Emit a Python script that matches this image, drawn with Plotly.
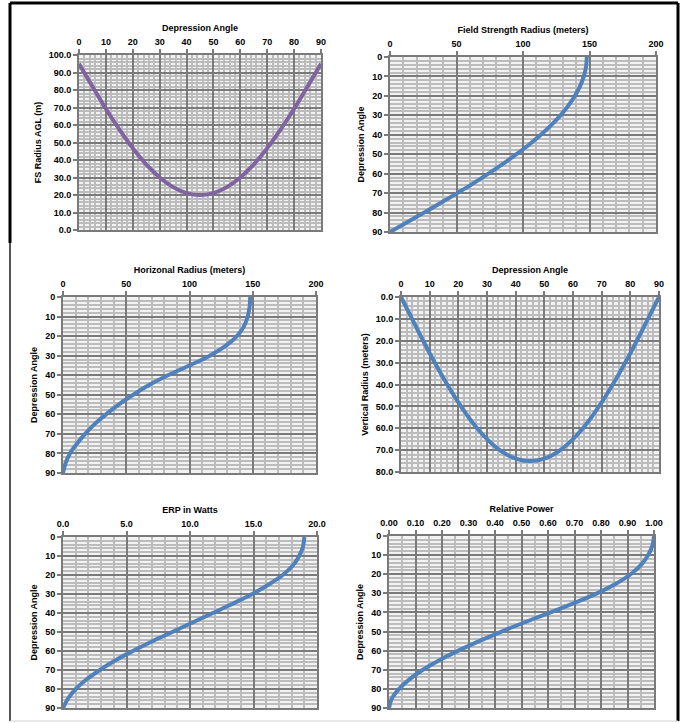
import plotly.graph_objects as go

W, H = 682, 723

# ---- data ----
angles = [0, 5, 10, 15, 20, 25, 30, 35, 40, 45, 50, 55, 60, 65, 70, 75, 80, 85, 90]
fs_radius_agl = [95, 82, 69.3, 57.5, 46.8, 37.5, 30, 24.5, 21.1, 20, 21.1, 24.5, 30, 37.5, 46.8, 57.5, 69.3, 82, 95]
field_strength_radius = [148, 147.4, 145.7, 142.9, 139, 134.1, 128.2, 121.2, 113.4, 104.7, 95.1, 84.9, 74, 62.6, 50.6, 38.3, 25.7, 12.9, 0]
horizontal_radius = [148, 147.5, 146, 143, 137.5, 128.5, 116, 100, 83, 68, 55.5, 44, 34, 25, 17.5, 11, 5.5, 2, 0]
vertical_radius = [0, 13, 25.7, 37.5, 48.2, 57.5, 65, 70.5, 73.9, 75, 73.9, 70.5, 65, 57.5, 48.2, 37.5, 25.7, 13, 0]
erp_watts = [19.0, 18.9, 18.6, 18.1, 17.3, 16.2, 14.9, 13.4, 11.8, 10.2, 8.6, 7.0, 5.5, 4.1, 2.9, 1.85, 1.0, 0.4, 0]
relative_power = [1.0, 0.994, 0.978, 0.952, 0.912, 0.856, 0.785, 0.70, 0.61, 0.515, 0.425, 0.34, 0.262, 0.19, 0.128, 0.077, 0.038, 0.011, 0]

x_titles = ["Depression Angle", "Field Strength Radius (meters)", "Horizonal Radius (meters)",
            "Depression Angle", "ERP in Watts", "Relative Power"]
y_titles = ["FS Radius AGL (m)", "Depression Angle", "Depression Angle",
            "Vertical Radius (meters)", "Depression Angle", "Depression Angle"]

PURPLE = "#8064a2"
BLUE = "#4f81bd"

# plot boxes in pixels: (x0, x1, ytop, ybottom)
boxes = [(79, 321, 55, 230), (390, 656, 57, 232), (63, 316, 297, 473),
         (401, 659, 297, 472), (63, 317, 537, 708), (389, 654, 536, 708)]

series = [
    (angles, fs_radius_agl, PURPLE),
    (field_strength_radius, angles, BLUE),
    (horizontal_radius, angles, BLUE),
    (angles, vertical_radius, BLUE),
    (erp_watts, angles, BLUE),
    (relative_power, angles, BLUE),
]

# axis specs: (range, dtick, minor dtick, tickformat)
xspec = [([0, 90], 10, 2, "d"), ([0, 200], 50, 10, "d"), ([0, 200], 50, 10, "d"),
         ([0, 90], 10, 2, "d"), ([0, 20], 5, 1, ".1f"), ([0, 1], 0.1, 0.05, ".2f")]
yspec = [([0, 100], 10, 2, ".1f"), ([90, 0], 10, 2, "d"), ([90, 0], 10, 2, "d"),
         ([80, 0], 10, 2, ".1f"), ([90, 0], 10, 2, "d"), ([90, 0], 10, 2, "d")]

FONT = dict(family="Liberation Sans", size=9, color="#000000", weight="bold")
MAJOR = "#7a7a7a"
MINOR = "#bcbcbc"

fig = go.Figure()
layout = {}
for i, ((x0, x1, yt, yb), (xs, ys, col)) in enumerate(zip(boxes, series)):
    n = i + 1
    sx = "" if n == 1 else str(n)
    fig.add_trace(go.Scatter(x=xs, y=ys, mode="lines", line=dict(color=col, width=4, shape="spline", smoothing=1),
                             xaxis="x" + sx, yaxis="y" + sx, showlegend=False, hoverinfo="skip"))
    xr, xd, xm, xf = xspec[i]
    yr, yd, ym, yf = yspec[i]
    layout["xaxis" + sx] = dict(
        domain=[x0 / W, x1 / W], anchor="y" + sx, side="top", range=xr, dtick=xd, tick0=0,
        tickformat=xf, showgrid=True, gridcolor=MAJOR, gridwidth=2,
        minor=dict(dtick=xm, tick0=0, showgrid=True, gridcolor=MINOR, gridwidth=1.5),
        showline=True, linecolor=MAJOR, linewidth=2, mirror=True,
        ticks="outside", ticklen=4, tickcolor=MAJOR, tickwidth=2,
        tickfont=FONT, zeroline=False, automargin=False,
        title=dict(text=x_titles[i], font=FONT, standoff=4),
    )
    layout["yaxis" + sx] = dict(
        domain=[1 - yb / H, 1 - yt / H], anchor="x" + sx, range=yr, dtick=yd, tick0=0,
        tickformat=yf, showgrid=True, gridcolor=MAJOR, gridwidth=2,
        minor=dict(dtick=ym, tick0=0, showgrid=True, gridcolor=MINOR, gridwidth=1.5),
        showline=True, linecolor=MAJOR, linewidth=2, mirror=True,
        ticks="outside", ticklen=4, tickcolor=MAJOR, tickwidth=2,
        tickfont=FONT, zeroline=False, automargin=False,
        title=dict(text=y_titles[i], font=FONT, standoff=6),
    )

def px_line(xa, ya, xb, yb, color, width):
    return dict(type="line", xref="paper", yref="paper", x0=xa / W, x1=xb / W,
                y0=1 - ya / H, y1=1 - yb / H, line=dict(color=color, width=width), layer="above")

shapes = [
    px_line(10, 3, 678, 3, "#000000", 3),
    px_line(678, 3, 678, 721, "#000000", 3),
    px_line(10, 3, 10, 243, "#000000", 3),
    px_line(10, 243, 10, 721, "#555555", 2),
    px_line(10, 721, 678, 721, "#d0d0d0", 1),
]

fig.update_layout(
    width=W, height=H, margin=dict(l=0, r=0, t=0, b=0, autoexpand=False),
    paper_bgcolor="white", plot_bgcolor="#f2f2f2",
    shapes=shapes, **layout,
)

fig.write_html("out.html", config={"displayModeBar": False},
               post_script="document.body.style.margin='0';document.body.style.overflow='hidden';")
